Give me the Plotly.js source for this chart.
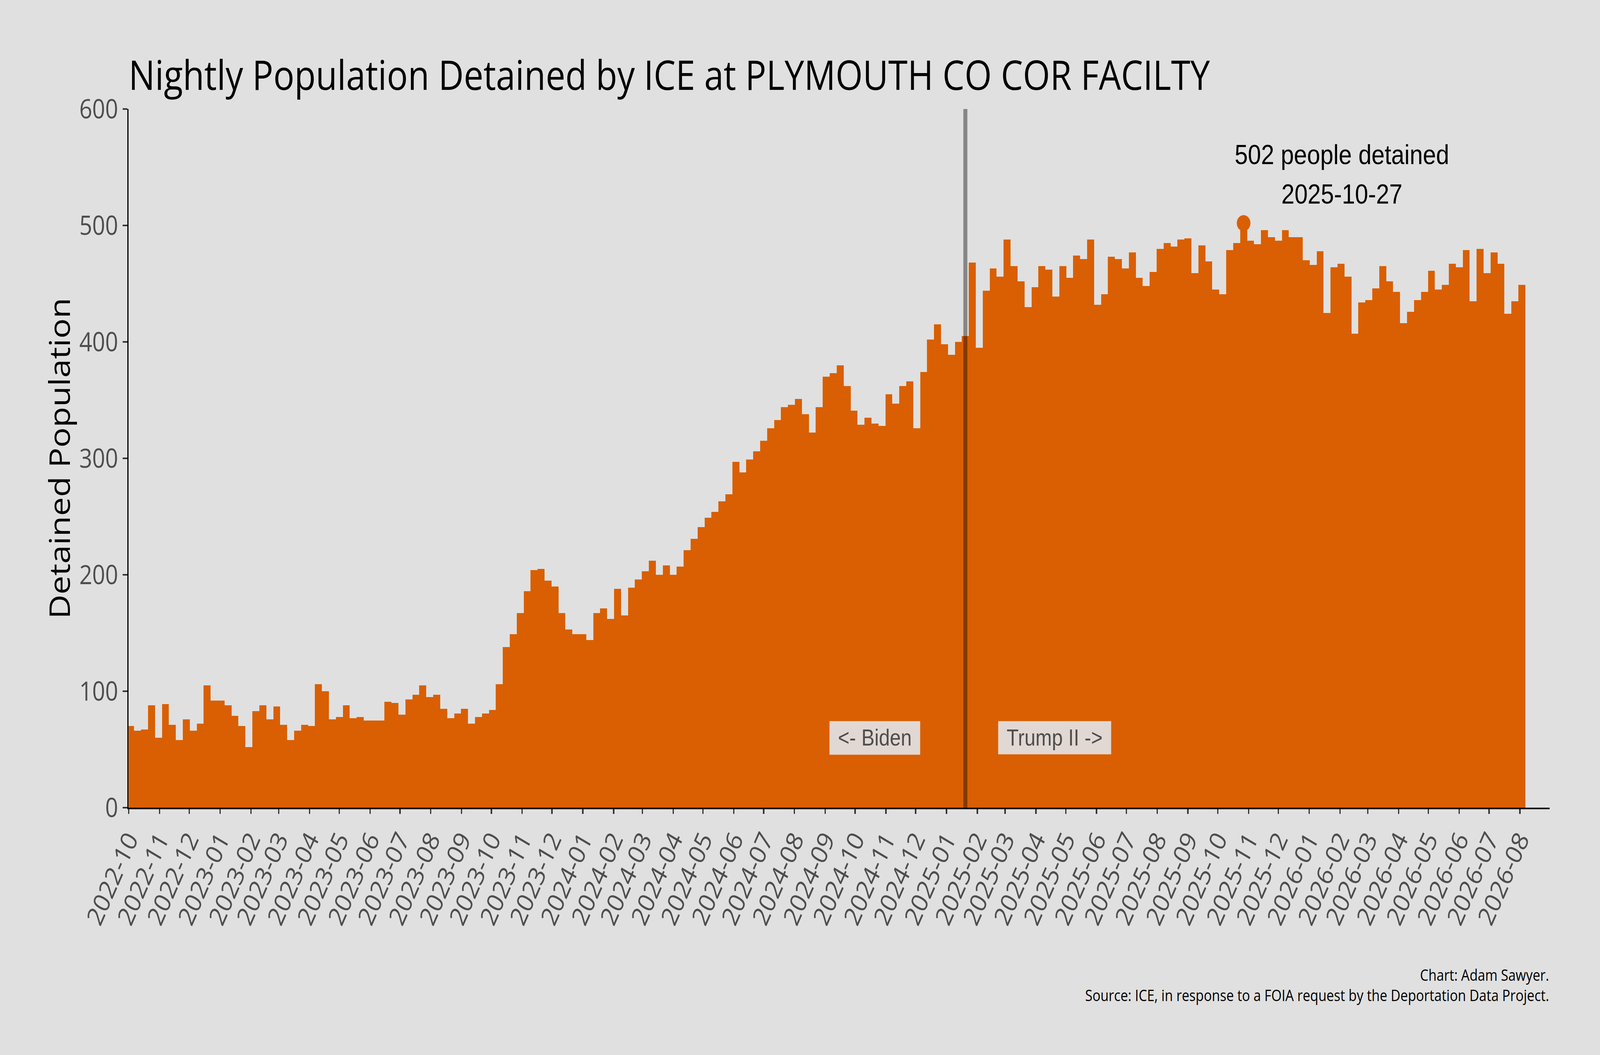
<!DOCTYPE html>
<html>
<head>
<meta charset="utf-8">
<script src="https://cdn.plot.ly/plotly-3.0.1.min.js"></script>
<style>
  html, body { margin: 0; padding: 0; width: 100%; height: 100%; overflow: hidden; background: #e0e0e0; }
  #wrap { position: fixed; left: 0; top: 0; width: 100vw; height: 100vh; overflow: hidden; }
  #chart { position: absolute; left: 0; top: 0; width: 4800px; height: 2700px; transform-origin: 0 0; }
</style>
</head>
<body>
<div id="wrap"><div id="chart"></div></div>
<script>
// Nightly detained population at weekly steps
const firstWeek = '2022-10-03';
const weeklyPopulation = [
  70, 66, 67, 88, 60, 89, 71, 58, 76, 66,
  72, 105, 92, 92, 88, 79, 70, 52, 83, 88,
  76, 87, 71, 58, 66, 71, 70, 106, 100, 76,
  78, 88, 77, 78, 75, 75, 75, 91, 90, 80,
  93, 97, 105, 95, 97, 85, 77, 81, 85, 72,
  78, 81, 84, 106, 138, 149, 167, 186, 204, 205,
  195, 190, 167, 153, 149, 149, 144, 167, 171, 162,
  188, 165, 189, 196, 203, 212, 200, 208, 200, 207,
  221, 231, 241, 249, 254, 263, 269, 297, 288, 299,
  306, 315, 326, 333, 344, 346, 351, 338, 322, 344,
  370, 373, 380, 362, 341, 329, 335, 330, 328, 355,
  347, 362, 366, 326, 374, 402, 415, 398, 389, 400,
  405, 468, 395, 444, 463, 456, 488, 465, 452, 430,
  447, 465, 462, 439, 465, 455, 474, 471, 488, 432,
  441, 473, 471, 463, 477, 455, 448, 460, 480, 485,
  482, 488, 489, 459, 483, 469, 445, 441, 479, 485,
  502, 487, 484, 496, 490, 487, 496, 490, 490, 470,
  466, 478, 425, 464, 467, 456, 407, 434, 436, 446,
  465, 452, 443, 416, 426, 436, 443, 461, 445, 449,
  467, 464, 479, 435, 480, 459, 477, 467, 424, 435,
  449
];

const inauguration = '2025-01-20';
const titleText = 'Nightly Population Detained by ICE at PLYMOUTH CO COR FACILTY';
const captionLines = [
  'Chart: Adam Sawyer.',
  'Source: ICE, in response to a FOIA request by the Deportation Data Project.'
];

const ORANGE = '#d95f02';
const BG = '#e0e0e0';
const DAY = 86400000;

// one date per weekly value
const start = new Date(firstWeek + 'T00:00:00Z');
const dates = weeklyPopulation.map((_, i) =>
  new Date(start.getTime() + i * 7 * DAY).toISOString().slice(0, 10));

const peakValue = Math.max(...weeklyPopulation);
const peakDate = dates[weeklyPopulation.indexOf(peakValue)];

const bars = {
  type: 'bar',
  x: dates,
  y: weeklyPopulation,
  width: 7 * DAY,
  marker: {color: ORANGE, line: {width: 0}},
  hoverinfo: 'x+y'
};

const peak = {
  type: 'scatter',
  mode: 'markers',
  x: [peakDate],
  y: [peakValue],
  marker: {color: ORANGE, size: 41},
  cliponaxis: false
};

const tickFont = {family: 'Open Sans, sans-serif', size: 68, color: '#4d4d4d'};
const labelFont = {family: 'Liberation Sans, Arial, sans-serif', size: 59, color: '#4d4d4d'};
const captionFont = {family: 'Open Sans, sans-serif', size: 40, color: 'black'};
const peakFont = {family: 'Liberation Sans, Arial, sans-serif', size: 71, color: 'black'};

const layout = {
  width: 4800,
  height: 2700,
  paper_bgcolor: BG,
  plot_bgcolor: BG,
  margin: {l: 386, r: 151, t: 279, b: 633},
  font: {family: 'Open Sans, sans-serif', color: '#4d4d4d'},
  showlegend: false,
  bargap: 0,
  title: {
    text: titleText,
    xref: 'paper', x: 0, xanchor: 'left',
    yref: 'container', y: 0.9285, yanchor: 'middle',
    font: {family: 'Open Sans, sans-serif', size: 105, color: 'black'}
  },
  xaxis: {
    type: 'date',
    range: ['2022-10-01', '2026-08-31'],
    tick0: '2022-10-01',
    dtick: 'M1',
    tickformat: '%Y-%m',
    tickangle: -63,
    ticks: 'outside', ticklen: 12, tickwidth: 4, tickcolor: '#333333',
    showline: true, linecolor: 'black', linewidth: 4,
    showgrid: false, zeroline: false,
    tickfont: tickFont
  },
  yaxis: {
    range: [0, 600],
    dtick: 100,
    ticks: 'outside', ticklen: 14, tickwidth: 4, tickcolor: '#333333',
    showline: true, linecolor: 'black', linewidth: 4,
    showgrid: false, zeroline: false,
    tickfont: tickFont,
    title: {
      text: 'Detained Population',
      standoff: 0,
      font: {family: 'Open Sans, sans-serif', size: 86, color: 'black'}
    }
  },
  shapes: [{
    type: 'line', layer: 'above',
    xref: 'x', yref: 'paper',
    x0: inauguration, x1: inauguration, y0: 0, y1: 1,
    line: {color: 'rgba(0,0,0,0.4)', width: 12}
  }],
  annotations: [
    {
      text: '<- Biden', x: '2024-10-21', y: 60, xanchor: 'center', yanchor: 'middle',
      showarrow: false, bgcolor: 'rgba(226,224,224,0.94)', borderpad: 0,
      width: 271, height: 85, font: labelFont
    },
    {
      text: 'Trump II ->', x: '2025-04-20', y: 60, xanchor: 'center', yanchor: 'middle',
      showarrow: false, bgcolor: 'rgba(226,224,224,0.94)', borderpad: 0,
      width: 338, height: 84, font: labelFont
    },
    {
      text: peakValue + ' people detained', x: '2026-02-03', y: 561,
      xanchor: 'center', yanchor: 'middle', showarrow: false, font: peakFont
    },
    {
      text: peakDate, x: '2026-02-03', y: 527,
      xanchor: 'center', yanchor: 'middle', showarrow: false, font: peakFont
    },
    {
      text: captionLines.join('<br>'), xref: 'paper', yref: 'paper', x: 1, y: -0.2534,
      xanchor: 'right', yanchor: 'middle', align: 'right', showarrow: false,
      font: captionFont
    }
  ]
};

// the browser caps the viewport width, so map the 4800x2700 design onto
// whatever viewport we actually get
const chart = document.getElementById('chart');
const sx = window.innerWidth / 4800;
const sy = window.innerHeight / 2700;
if (sx > 0 && sy > 0 && (Math.abs(sx - 1) > 0.001 || Math.abs(sy - 1) > 0.001)) {
  chart.style.transform = 'scale(' + sx + ',' + sy + ')';
}

Plotly.newPlot(chart, [bars, peak], layout, {displayModeBar: false, staticPlot: true});
</script>
</body>
</html>
